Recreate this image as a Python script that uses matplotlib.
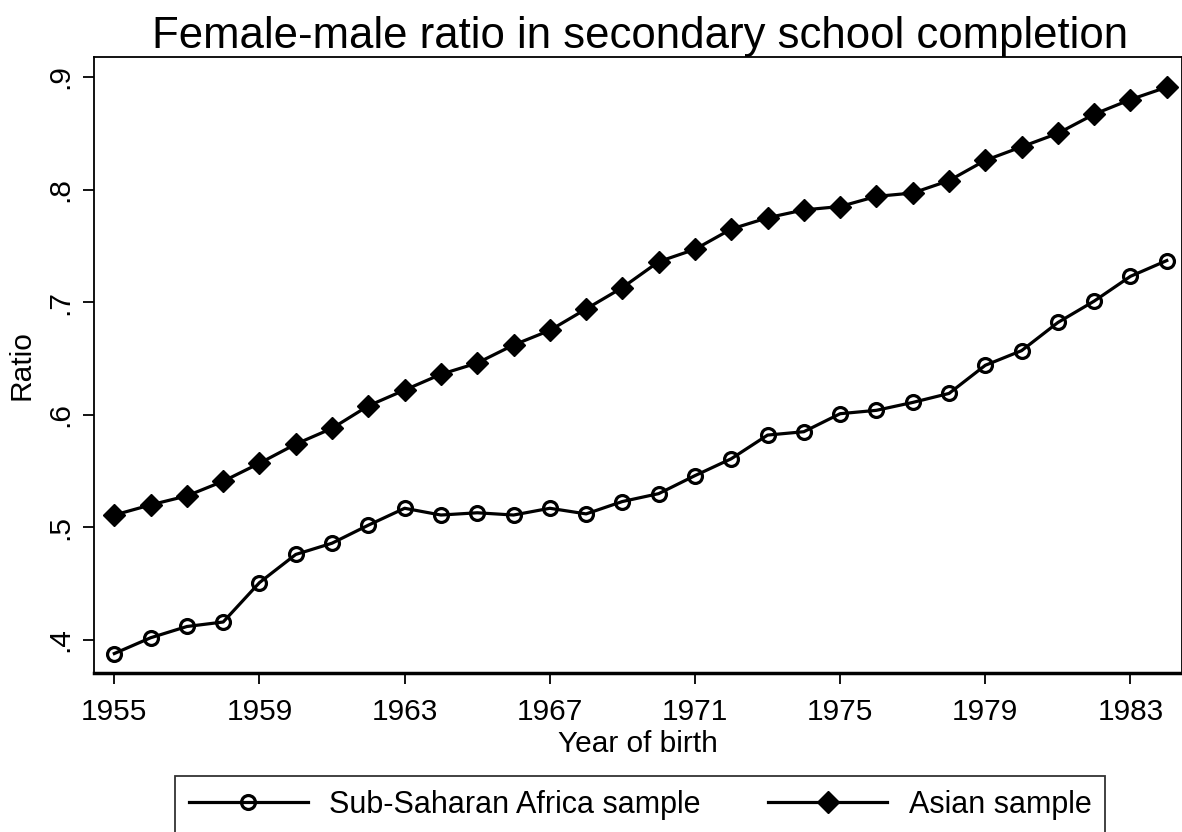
import numpy as np
import matplotlib
matplotlib.use("Agg")
import matplotlib.pyplot as plt
from matplotlib.ticker import FuncFormatter

plt.rcParams['font.family'] = ['Liberation Sans', 'DejaVu Sans']

years = list(range(1955, 1985))
africa = [0.388, 0.402, 0.412, 0.416, 0.451, 0.476, 0.486, 0.502, 0.517, 0.511,
          0.513, 0.511, 0.517, 0.512, 0.523, 0.530, 0.546, 0.561, 0.582, 0.585,
          0.601, 0.604, 0.611, 0.619, 0.644, 0.657, 0.682, 0.701, 0.723, 0.737]
asia = [0.511, 0.520, 0.528, 0.541, 0.557, 0.574, 0.588, 0.608, 0.622, 0.636,
        0.646, 0.662, 0.675, 0.694, 0.713, 0.736, 0.747, 0.765, 0.775, 0.782,
        0.785, 0.794, 0.797, 0.808, 0.826, 0.838, 0.850, 0.867, 0.880, 0.891]
xticks = [1955, 1959, 1963, 1967, 1971, 1975, 1979, 1983]
yticks = [0.4, 0.5, 0.6, 0.7, 0.8, 0.9]

fig = plt.figure(figsize=(11.82, 8.32), dpi=100)
ax = fig.add_axes([94 / 1182, 1 - 673 / 832, 1 - 94 / 1182, (673 - 57) / 832])

ax.plot(years, africa, color='black', lw=2.3, marker='o', ms=10,
        mfc='none', mec='black', mew=2.3, label='Sub-Saharan Africa sample')
ax.plot(years, asia, color='black', lw=2.3, marker='D', ms=11.5,
        mfc='black', mec='black', label='Asian sample')

ax.set_xlim(1954.44, 1984.42)
ax.set_ylim(0.3707, 0.9178)
ax.set_xticks(xticks)
ax.set_yticks(yticks)
ax.yaxis.set_major_formatter(FuncFormatter(lambda v, p: ('%.1f' % v).lstrip('0')))
ax.tick_params(axis='both', direction='out', length=8, width=1.3, labelsize=21.5, colors='black')
ax.tick_params(axis='x', pad=10)
ax.tick_params(axis='y', pad=6)
for lab in ax.get_yticklabels():
    lab.set_rotation(90)
    lab.set_va('center')

for side in ['left', 'top', 'right']:
    ax.spines[side].set_linewidth(1.3)
ax.spines['bottom'].set_linewidth(2.5)

ax.set_xlabel('Year of birth', fontsize=21.5, labelpad=3)
ax.set_ylabel('Ratio', fontsize=21.5, labelpad=8)
ax.set_title('Female-male ratio in secondary school completion', fontsize=31.5, pad=6,
             x=(640 - 94) / (1182 - 94))

leg = fig.legend(loc='upper center', bbox_to_anchor=(640 / 1182, 1 - 776 / 832),
                 ncol=2, fontsize=22, frameon=True, fancybox=False,
                 handlelength=3.9, handletextpad=0.7, columnspacing=2.2,
                 borderpad=0.45, borderaxespad=0)
leg.get_frame().set_edgecolor('black')
leg.get_frame().set_linewidth(1.3)

fig.savefig('out.png', dpi=100)
